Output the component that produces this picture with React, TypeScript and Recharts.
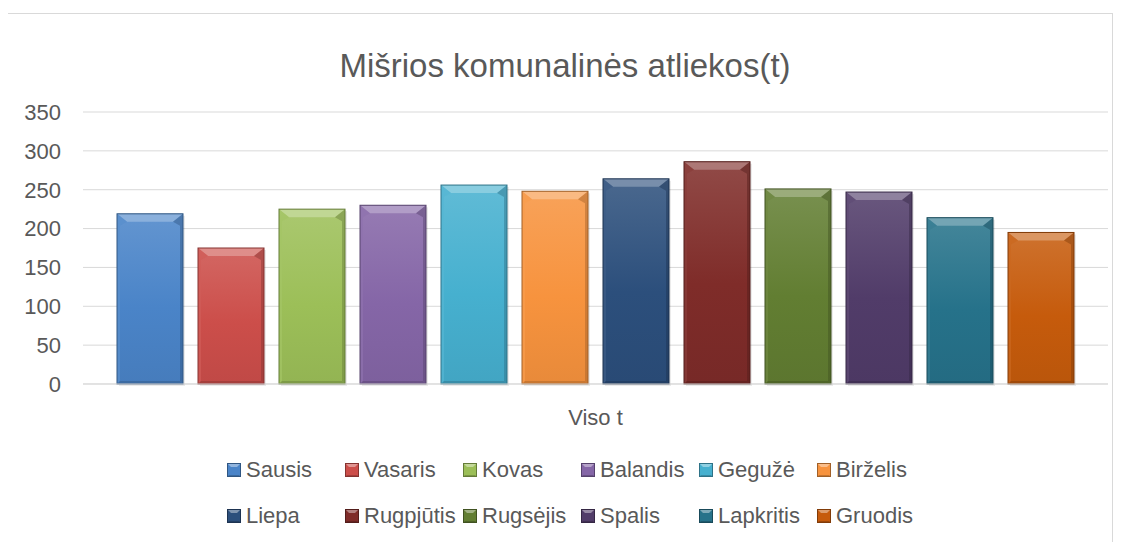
import { BarChart, Bar, XAxis, YAxis, CartesianGrid } from 'recharts';

const months = ['Sausis', 'Vasaris', 'Kovas', 'Balandis', 'Gegužė', 'Birželis', 'Liepa', 'Rugpjūtis', 'Rugsėjis', 'Spalis', 'Lapkritis', 'Gruodis'];
const totals = [219, 175, 225, 230, 256, 248, 264, 286, 251, 247, 214, 195];
const colors = ['#4a84c8', '#cc4e4a', '#9cbf58', '#8566a7', '#46b0cf', '#f7933e', '#2c4f7c', '#7f2c29', '#627e32', '#513c69', '#26728a', '#c65b0c'];
const category = 'Viso t';
const yTicks = [0, 50, 100, 150, 200, 250, 300, 350];

const row: Record<string, string | number> = { name: category };
months.forEach((m, i) => { row[m] = totals[i]; });
const data = [row];

const font = '"Liberation Sans", Arial, sans-serif';
const textColor = '#595959';

function mix(hex: string, target: string, t: number) {
  const a = parseInt(hex.slice(1), 16);
  const b = parseInt(target.slice(1), 16);
  const ch = (v: number, s: number) => (v >> s) & 255;
  const r = [16, 8, 0].map((s) => Math.round(ch(a, s) + (ch(b, s) - ch(a, s)) * t));
  return '#' + r.map((v) => v.toString(16).padStart(2, '0')).join('');
}

function BevelBar(props: any) {
  const { x, y, width: w, height: h, fill, dataKey } = props;
  if (!h || h <= 0) return null;
  const id = 'g' + months.indexOf(dataKey);
  const bx = Math.min(10, w / 4);
  const by = Math.min(8, h / 3);
  const s = 3;
  const dark = mix(fill, '#000000', 0.35);
  return (
    <g>
      <defs>
        <linearGradient id={id} x1="0" y1="0" x2="0" y2="1">
          <stop offset="0%" stopColor={mix(fill, '#ffffff', 0.14)} />
          <stop offset="55%" stopColor={fill} />
          <stop offset="100%" stopColor={mix(fill, '#000000', 0.06)} />
        </linearGradient>
      </defs>
      <rect x={x + 2} y={y + 2} width={w} height={h} fill="#000" opacity={0.08} />
      <rect x={x} y={y} width={w} height={h} fill={`url(#${id})`} />
      <polygon points={`${x},${y} ${x + w},${y} ${x + w - bx},${y + by} ${x + bx},${y + by}`} fill={mix(fill, '#ffffff', 0.4)} opacity={0.85} />
      <polygon points={`${x},${y} ${x + bx},${y + by} ${x + s},${y + by + 4} ${x + s},${y + h - s} ${x},${y + h}`} fill={mix(fill, '#ffffff', 0.08)} opacity={0.7} />
      <polygon points={`${x + w},${y} ${x + w - bx},${y + by} ${x + w - s},${y + by + 4} ${x + w - s},${y + h - s} ${x + w},${y + h}`} fill={dark} opacity={0.45} />
      <polygon points={`${x},${y + h} ${x + w},${y + h} ${x + w - s},${y + h - s} ${x + s},${y + h - s}`} fill={dark} opacity={0.45} />
      <rect x={x} y={y} width={w} height={h} fill="none" stroke={dark} strokeWidth={1} />
    </g>
  );
}

function LegendIcon({ color }: { color: string }) {
  const dark = mix(color, '#000000', 0.35);
  return (
    <svg width={14} height={14} style={{ marginRight: 5, flexShrink: 0 }}>
      <rect x={0} y={0} width={14} height={14} fill={color} />
      <polygon points="0,0 14,0 10,4 4,4" fill={mix(color, '#ffffff', 0.4)} />
      <polygon points="0,14 14,14 12,12 2,12" fill={dark} opacity={0.6} />
      <rect x={0.5} y={0.5} width={13} height={13} fill="none" stroke={dark} />
    </svg>
  );
}

function MonthLegend() {
  return (
    <div style={{ position: 'absolute', left: 219, top: 451, display: 'grid', gridTemplateColumns: 'repeat(6, 118px)', rowGap: 24, fontFamily: font, fontSize: 22, color: textColor }}>
      {months.map((m, i) => (
        <div key={m} style={{ display: 'flex', alignItems: 'center', height: 22, whiteSpace: 'nowrap' }}>
          <LegendIcon color={colors[i]} />
          <span>{m}</span>
        </div>
      ))}
    </div>
  );
}

export default function App() {
  return (
    <div style={{ position: 'relative', width: 1114, height: 534 }}>
      <div style={{ position: 'absolute', left: -1, top: 5, width: 1104, height: 540, borderTop: '1px solid #d9d9d9', borderLeft: '1px solid #d9d9d9', borderRight: '1px solid #d9d9d9' }} />
      <div style={{ position: 'absolute', left: 0, top: 41, width: 1114, textAlign: 'center', fontFamily: font, fontSize: 33, lineHeight: 1, color: textColor }}>
        Mišrios komunalinės atliekos(t)
      </div>
      <BarChart width={1114} height={534} data={data} margin={{ top: 104, right: 14, left: 0, bottom: 128 }} barSize={66} barGap={15}>
        <CartesianGrid vertical={false} stroke="#d9d9d9" />
        <XAxis dataKey="name" height={30} axisLine={{ stroke: '#d9d9d9' }} tickLine={false} tickMargin={19} tick={{ fill: textColor, fontSize: 22, fontFamily: font }} />
        <YAxis width={75} domain={[0, 350]} ticks={yTicks} axisLine={false} tickLine={false} tickMargin={16} tick={{ fill: textColor, fontSize: 22, fontFamily: font }} />
        {months.map((m, i) => (
          <Bar key={m} dataKey={m} fill={colors[i]} shape={<BevelBar />} isAnimationActive={false} />
        ))}
      </BarChart>
      <MonthLegend />
    </div>
  );
}
